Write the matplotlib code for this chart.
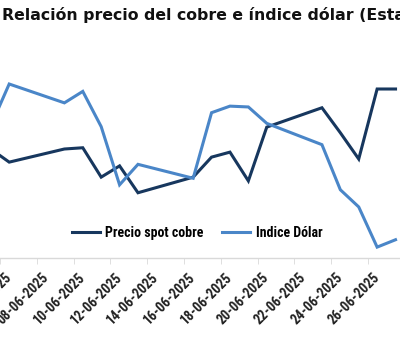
import matplotlib
matplotlib.use("Agg")
import matplotlib.pyplot as plt
import matplotlib.dates as mdates
import matplotlib.transforms as mtransforms
import numpy as np
import pandas as pd

dates = pd.to_datetime([
    "2025-06-05", "2025-06-06", "2025-06-09", "2025-06-10", "2025-06-11",
    "2025-06-12", "2025-06-13", "2025-06-16", "2025-06-17", "2025-06-18",
    "2025-06-19", "2025-06-20", "2025-06-23", "2025-06-24", "2025-06-25",
    "2025-06-26", "2025-06-27",
])
# copper spot price (US cents / lb)
cobre = [440.4, 438.3, 440.4, 440.6, 435.9, 437.7, 433.4, 435.9, 439.1,
         439.9, 435.3, 443.9, 447.0, 443.0, 438.8, 450.0, 450.0]
# dollar index
dolar = [98.68, 99.19, 98.96, 99.10, 98.67, 97.96, 98.21, 98.04, 98.84,
         98.92, 98.91, 98.71, 98.45, 97.90, 97.69, 97.20, 97.29]

label_dates = pd.date_range("2025-06-06", "2025-06-26", freq="2D")
title = "Relación precio del cobre e índice dólar (Estados Unidos)"

dark = "#17375E"
light = "#4A86C8"
lab_font = ["Roboto Condensed", "DejaVu Sans"]

fig = plt.figure(figsize=(4, 3.6), dpi=100)
ax = fig.add_axes([0, 0.2833, 1, 0.6056])
ax2 = ax.twinx()

ax.plot(dates, cobre, color=dark, lw=2.2, label="Precio spot cobre",
        solid_joinstyle="miter")
ax2.plot(dates, dolar, color=light, lw=2.2, label="Indice Dólar",
         solid_joinstyle="miter")

d0 = mdates.date2num(pd.Timestamp("2025-06-06"))
ax.set_xlim(d0 - 7 / 18.5, d0 + 393 / 18.5)
ax.set_ylim(422.96, 457.84)
ax2.set_ylim(97.067, 99.727)

for a in (ax, ax2):
    for s in a.spines.values():
        s.set_visible(False)
    a.set_yticks([])
ax.spines["bottom"].set_visible(True)
ax.spines["bottom"].set_color("#d9d9d9")
ax.spines["bottom"].set_linewidth(1)

ax.set_xticks(mdates.date2num(label_dates))
ax.set_xticklabels([d.strftime("%d-%m-%Y") for d in label_dates],
                   rotation=45, ha="right", fontsize=10, fontweight="bold",
                   family=lab_font, color="#222222")
ax.tick_params(axis="x", which="major", length=0, pad=9)
shift = mtransforms.ScaledTranslation(5 / 100, 0, fig.dpi_scale_trans)
for lbl in ax.get_xticklabels():
    lbl.set_transform(lbl.get_transform() + shift)
ax.set_xticks(mdates.date2num(label_dates) - 0.5, minor=True)
ax.tick_params(axis="x", which="minor", length=4, color="#d9d9d9")

fig.text(0.005, 0.958, title, fontsize=11.3, fontweight="bold",
         ha="left", va="center", color="#111111")

h1, l1 = ax.get_legend_handles_labels()
h2, l2 = ax2.get_legend_handles_labels()
fig.legend(h1 + h2, l1 + l2, loc="center", bbox_to_anchor=(0.4925, 0.353),
           ncol=2, frameon=False, handlelength=2.0, handletextpad=0.4,
           columnspacing=1.35,
           prop={"family": lab_font, "weight": "bold", "size": 10})

fig.savefig("out.png", dpi=100)
